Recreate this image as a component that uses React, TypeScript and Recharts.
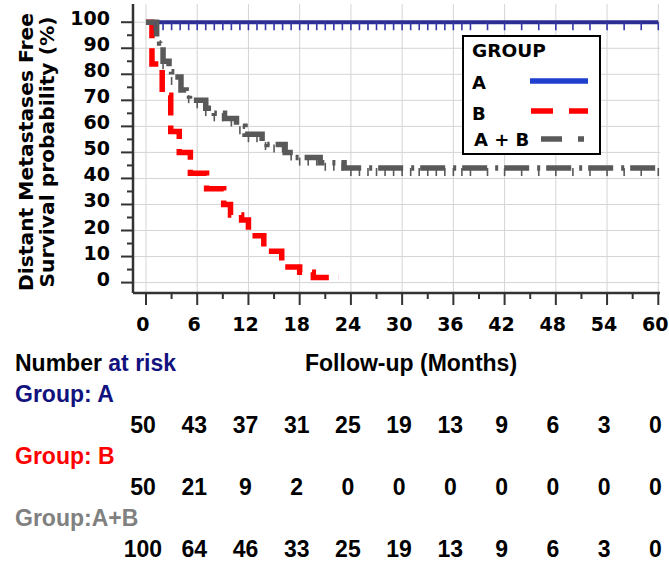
import React from "react";
import {
  ComposedChart,
  Line,
  Scatter,
  XAxis,
  YAxis,
  CartesianGrid,
  Legend,
} from "recharts";

// ---- data ----
const X_MAJOR = [0, 6, 12, 18, 24, 30, 36, 42, 48, 54, 60];
const X_MINOR = [3, 9, 15, 21, 27, 33, 39, 45, 51, 57];
const Y_MAJOR = [0, 10, 20, 30, 40, 50, 60, 70, 80, 90, 100];
const Y_MINOR = [5, 15, 25, 35, 45, 55, 65, 75, 85, 95];

const RISK_A = [50, 43, 37, 31, 25, 19, 13, 9, 6, 3, 0];
const RISK_B = [50, 21, 9, 2, 0, 0, 0, 0, 0, 0, 0];
const RISK_AB = [100, 64, 46, 33, 25, 19, 13, 9, 6, 3, 0];

const A_T = [0, 60];
const A_V = [100, 100];

const B_T = [0, 0.7, 1.9, 2.9, 3.9, 5.2, 7.1, 9.1, 9.9, 11.2, 12.0, 13.8, 15.9, 18.0, 19.6, 22.6];
const B_V = [100, 84, 72, 58, 50, 42, 36, 30, 26, 24, 18, 12, 6, 4, 2, 2];

const AB_T = [0, 1.25, 1.6, 2.0, 2.7, 3.0, 4.1, 4.7, 5.1, 7.0, 8.0, 9.2, 10.6, 11.6, 13.6, 14.2, 16.3, 17.4, 20.4, 23.2, 60];
const AB_V = [100, 94, 92, 85, 81, 79, 74, 72, 70, 67, 65, 63, 60, 57, 54, 53, 50, 48, 46, 44, 44];

const CENSOR_T = [
  1, 2, 3, 4, 5, 6, 7, 8, 9, 10, 11, 12, 13, 14, 15, 16, 17, 18, 19, 20,
  21, 22, 23, 24, 25, 26, 27, 28, 29, 30, 31, 32, 33, 34, 35, 36, 37, 38,
  40, 42, 44, 46, 48, 50, 52, 54, 56, 58, 60,
];

// ---- helpers ----
const toPoints = (T: number[], V: number[]) => T.map((t, i) => ({ t, v: V[i] }));
const stepAt = (T: number[], V: number[], t: number) => {
  let v = V[0];
  for (let i = 0; i < T.length; i++) if (T[i] <= t) v = V[i];
  return v;
};

const dataA = toPoints(A_T, A_V);
const dataB = toPoints(B_T, B_V);
const dataAB = toPoints(AB_T, AB_V);
const censorA = CENSOR_T.map((t) => ({ t, v: stepAt(A_T, A_V, t) }));
const censorAB = CENSOR_T.map((t) => ({ t, v: stepAt(AB_T, AB_V, t) }));

const BLUE = "#2b2d93";
const RED = "#ff0000";
const GRAY = "#595959";
const AXIS = "#333333";
const NAVY = "#12127f";
const TICK_FONT = "'DejaVu Sans', sans-serif";
const TABLE_FONT = "'Liberation Sans', Arial, sans-serif";

const XTick = (props: any) => {
  const { x, y, payload } = props;
  const v = payload.value;
  const i = X_MAJOR.indexOf(v);
  if (i < 0) {
    return <line x1={x} x2={x} y1={y} y2={y + 6} stroke={AXIS} strokeWidth={2} />;
  }
  const tx = x - 3;
  return (
    <g>
      <line x1={x} x2={x} y1={y} y2={y + 12} stroke={AXIS} strokeWidth={2} />
      <text x={tx} y={y + 38} textAnchor="middle" fontFamily={TICK_FONT} fontWeight="bold" fontSize={19} fill="#000">
        {v}
      </text>
      <text x={tx} y={y + 140} textAnchor="middle" fontFamily={TABLE_FONT} fontWeight="bold" fontSize={23} fill="#000">
        {RISK_A[i]}
      </text>
      <text x={tx} y={y + 202} textAnchor="middle" fontFamily={TABLE_FONT} fontWeight="bold" fontSize={23} fill="#000">
        {RISK_B[i]}
      </text>
      <text x={tx} y={y + 264} textAnchor="middle" fontFamily={TABLE_FONT} fontWeight="bold" fontSize={23} fill="#000">
        {RISK_AB[i]}
      </text>
    </g>
  );
};

const YTick = (props: any) => {
  const { x, y, payload } = props;
  const v = payload.value;
  if (!Y_MAJOR.includes(v)) {
    return <line x1={x - 6} x2={x} y1={y} y2={y} stroke={AXIS} strokeWidth={2} />;
  }
  return (
    <g>
      <line x1={x - 12} x2={x} y1={y} y2={y} stroke={AXIS} strokeWidth={2} />
      <text x={x - 23} y={y + 3} textAnchor="end" fontFamily={TICK_FONT} fontWeight="bold" fontSize={19} fill="#000">
        {v}
      </text>
    </g>
  );
};

const censorShape = (color: string) => (props: any) =>
  <line x1={props.cx} x2={props.cx} y1={props.cy} y2={props.cy + 8} stroke={color} strokeWidth={1.6} />;

const LegendBox = () => (
  <svg width={139} height={120} style={{ display: "block" }}>
    <rect x={1} y={1} width={137} height={118} fill="#fff" stroke="#000" strokeWidth={2} />
    <text x={10} y={22} fontFamily={TICK_FONT} fontWeight="bold" fontSize={18.5} fill="#000">GROUP</text>
    <text x={10} y={54} fontFamily={TICK_FONT} fontWeight="bold" fontSize={18} fill="#000">A</text>
    <text x={10} y={85} fontFamily={TICK_FONT} fontWeight="bold" fontSize={18} fill="#000">B</text>
    <text x={12} y={111} fontFamily={TICK_FONT} fontWeight="bold" fontSize={18} fill="#000">A + B</text>
    <line x1={68} x2={126} y1={46} y2={46} stroke="#1f3fcf" strokeWidth={5.5} />
    <line x1={69} x2={126} y1={76} y2={76} stroke={RED} strokeWidth={5.5} strokeDasharray="22 16" />
    <line x1={79} x2={122} y1={104} y2={104} stroke={GRAY} strokeWidth={5.5} strokeDasharray="21 16 6 40" />
  </svg>
);

export default function App() {
  return (
    <div style={{ position: "absolute", left: 0, top: 0, width: 669, height: 562, background: "#fff" }}>
      <ComposedChart width={669} height={562} margin={{ top: 4, right: 9, left: 0, bottom: 0 }}>
        <CartesianGrid
          stroke="#d4d4d4"
          strokeWidth={1}
          horizontalValues={Y_MAJOR}
          verticalValues={X_MAJOR}
        />
        <XAxis
          type="number"
          dataKey="t"
          domain={[-1.52, 60.2]}
          allowDataOverflow
          ticks={[...X_MAJOR, ...X_MINOR].sort((a, b) => a - b)}
          interval={0}
          height={269}
          tickSize={0}
          tickMargin={0}
          tickLine={false}
          axisLine={{ stroke: AXIS, strokeWidth: 2.5 }}
          tick={(p: any) => <XTick {...p} />}
        />
        <YAxis
          type="number"
          dataKey="v"
          domain={[-4, 107]}
          allowDataOverflow
          ticks={[...Y_MAJOR, ...Y_MINOR].sort((a, b) => a - b)}
          interval={0}
          width={133}
          tickSize={0}
          tickMargin={0}
          tickLine={false}
          axisLine={{ stroke: AXIS, strokeWidth: 2.5 }}
          tick={(p: any) => <YTick {...p} />}
        />
        <Legend
          layout="horizontal"
          align="center"
          verticalAlign="middle"
          wrapperStyle={{ left: 462, top: 35, width: 139, height: 120 }}
          content={() => <LegendBox />}
        />
        <Line
          data={dataA}
          dataKey="v"
          type="stepAfter"
          stroke={BLUE}
          strokeWidth={4}
          dot={false}
          activeDot={false}
          isAnimationActive={false}
        />
        <Scatter data={censorA} dataKey="v" shape={censorShape("#3535a8")} isAnimationActive={false} />
        <Line
          data={dataB}
          dataKey="v"
          type="stepAfter"
          stroke={RED}
          strokeWidth={5.5}
          strokeDasharray="22 10"
          dot={false}
          activeDot={false}
          isAnimationActive={false}
        />
        <Line
          data={dataAB}
          dataKey="v"
          type="stepAfter"
          stroke={GRAY}
          strokeWidth={5.5}
          strokeDasharray="25 8 3 6"
          dot={false}
          activeDot={false}
          isAnimationActive={false}
        />
        <Scatter data={censorAB} dataKey="v" shape={censorShape(GRAY)} isAnimationActive={false} />
      </ComposedChart>
      <svg
        width={669}
        height={562}
        style={{ position: "absolute", left: 0, top: 0, pointerEvents: "none" }}
      >
        <text transform="translate(33,152) rotate(-90)" textAnchor="middle" fontFamily={TICK_FONT} fontWeight="bold" fontSize={20.3} fill="#000">
          Distant Metastases Free
        </text>
        <text transform="translate(54,152) rotate(-90)" textAnchor="middle" fontFamily={TICK_FONT} fontWeight="bold" fontSize={20.3} fill="#000">
          Survival probability (%)
        </text>
        <text x={305} y={371} fontFamily={TABLE_FONT} fontWeight="bold" fontSize={23} fill="#000">
          Follow-up (Months)
        </text>
        <text x={15} y={371} fontFamily={TABLE_FONT} fontWeight="bold" fontSize={23} fill="#000">
          <tspan>Number </tspan>
          <tspan fill={NAVY}>at risk</tspan>
        </text>
        <text x={15} y={402} fontFamily={TABLE_FONT} fontWeight="bold" fontSize={23} fill={NAVY}>
          Group: A
        </text>
        <text x={15} y={464} fontFamily={TABLE_FONT} fontWeight="bold" fontSize={23} fill={RED}>
          Group: B
        </text>
        <text x={15} y={526} fontFamily={TABLE_FONT} fontWeight="bold" fontSize={23} fill="#808080">
          Group:A+B
        </text>
      </svg>
    </div>
  );
}
